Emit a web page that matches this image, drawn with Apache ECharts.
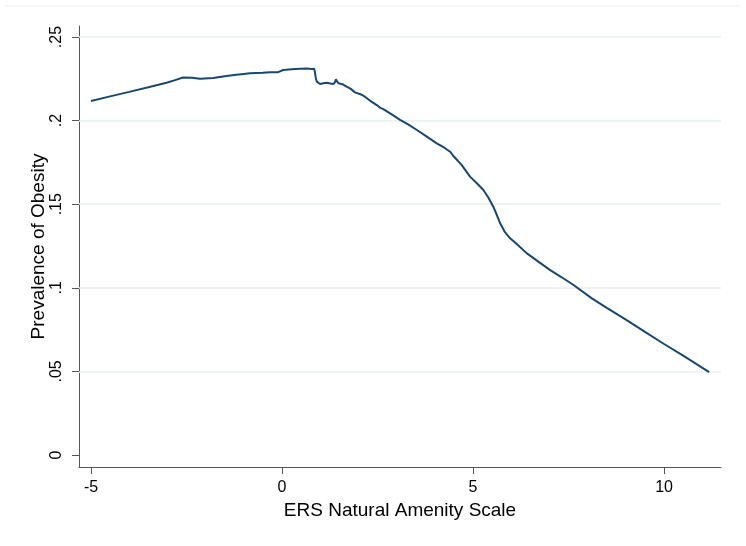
<!DOCTYPE html>
<html>
<head>
<meta charset="utf-8">
<script src="https://cdn.jsdelivr.net/npm/echarts@6/dist/echarts.min.js"></script>
<style>
html,body{margin:0;padding:0;background:#fff;}
#chart{width:746px;height:546px;}
</style>
</head>
<body>
<div id="chart"></div>
<script>
// Amenity scale (x) and smoothed prevalence of obesity (y)
var amenityX = [-5.0, -4.5, -4.0, -3.5, -3.0, -2.8, -2.59, -2.35, -2.15, -1.8, -1.5, -1.2, -1.0, -0.84, -0.5, -0.31, -0.1, 0.03, 0.25, 0.47, 0.65, 0.78, 0.84, 0.86, 0.88, 0.91, 0.995, 1.08, 1.17, 1.27, 1.35, 1.39, 1.41, 1.44, 1.48, 1.58, 1.69, 1.8, 1.91, 2.05, 2.17, 2.3, 2.48, 2.56, 2.65, 2.85, 3.09, 3.3, 3.53, 3.79, 4.05, 4.25, 4.40, 4.48, 4.7, 4.92, 5.1, 5.27, 5.4, 5.53, 5.62, 5.71, 5.82, 5.97, 6.15, 6.41, 6.7, 7.02, 7.3, 7.63, 8.11, 8.5, 9.0, 9.5, 10.0, 10.5, 11.18];
var obesity  = [0.2117, 0.2145, 0.2172, 0.2200, 0.2228, 0.2242, 0.2258, 0.2257, 0.2250, 0.2255, 0.2266, 0.2274, 0.2279, 0.2283, 0.2286, 0.2290, 0.2290, 0.2303, 0.2307, 0.2311, 0.2312, 0.2309, 0.2310, 0.2293, 0.2260, 0.2233, 0.2219, 0.2224, 0.2227, 0.2222, 0.2219, 0.2232, 0.2247, 0.2235, 0.2223, 0.2218, 0.2203, 0.2190, 0.2169, 0.2158, 0.2143, 0.2120, 0.2093, 0.2078, 0.2069, 0.2040, 0.2004, 0.1978, 0.1944, 0.1904, 0.1864, 0.1838, 0.1814, 0.1790, 0.1735, 0.1665, 0.1625, 0.1585, 0.1540, 0.1485, 0.1437, 0.1386, 0.1338, 0.1296, 0.1260, 0.1206, 0.1158, 0.1106, 0.1066, 0.1017, 0.0937, 0.0880, 0.0810, 0.0736, 0.0664, 0.0594, 0.0496];
var xTicks = [-5, 0, 5, 10];
var yTicks = [0, 0.05, 0.1, 0.15, 0.2, 0.25];
var yTickLabels = ['0', '.05', '.1', '.15', '.2', '.25'];

var points = amenityX.map(function (x, i) { return [x, obesity[i]]; });
var FONT = 'Liberation Sans, Arial, sans-serif';

var chart = echarts.init(document.getElementById('chart'), null, {renderer: 'canvas'});
chart.setOption({
  backgroundColor: '#ffffff',
  animation: false,
  grid: {left: 79, right: 25, top: 26, bottom: 79, containLabel: false},
  graphic: [{
    type: 'line', shape: {x1: 5, y1: 6, x2: 740, y2: 6},
    style: {stroke: '#eef1f1', lineWidth: 1}, silent: true
  }],
  xAxis: {
    type: 'value',
    min: -5.314, max: 11.49,
    name: 'ERS Natural Amenity Scale',
    nameLocation: 'middle',
    nameGap: 34,
    nameTextStyle: {fontFamily: FONT, fontSize: 19, color: '#000'},
    axisLine: {show: true, onZero: false, lineStyle: {color: '#555', width: 1}},
    axisTick: {show: true, length: 7, lineStyle: {color: '#555'}, customValues: xTicks},
    axisLabel: {
      fontFamily: FONT, fontSize: 16, color: '#000', margin: 13,
      customValues: xTicks,
      formatter: function (v) { return String(v); }
    },
    splitLine: {show: false}
  },
  yAxis: {
    type: 'value',
    min: -0.00718, max: 0.2566,
    name: 'Prevalence of Obesity',
    nameLocation: 'middle',
    nameGap: 31,
    nameMoveOverlap: false,
    nameTextStyle: {fontFamily: FONT, fontSize: 19, color: '#000'},
    axisLine: {show: true, onZero: false, lineStyle: {color: '#555', width: 1}},
    axisTick: {show: true, length: 7, lineStyle: {color: '#555'}, customValues: yTicks},
    axisLabel: {
      fontFamily: FONT, fontSize: 16, color: '#000', margin: 14, rotate: 90,
      customValues: yTicks,
      formatter: function (v) {
        var i = yTicks.findIndex(function (t) { return Math.abs(t - v) < 1e-9; });
        return i >= 0 ? yTickLabels[i] : '';
      }
    },
    splitLine: {show: false}
  },
  series: [{
    type: 'line',
    data: points,
    showSymbol: false,
    smooth: false,
    lineStyle: {color: '#1a476f', width: 2},
    z: 3,
    markLine: {
      silent: true, symbol: 'none', label: {show: false},
      lineStyle: {color: '#e8eeee', width: 1.5, type: 'solid'},
      data: yTicks.filter(function (t) { return t > 0; }).map(function (t) { return {yAxis: t}; }),
      z: 1
    }
  }]
});
</script>
</body>
</html>
